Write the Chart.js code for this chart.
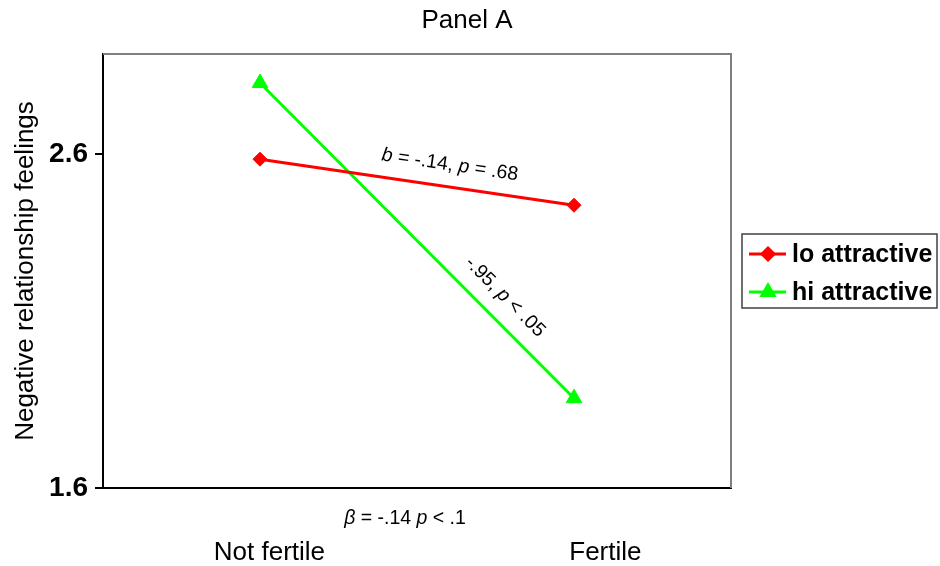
<!DOCTYPE html>
<html>
<head>
<meta charset="utf-8">
<script src="https://cdn.jsdelivr.net/npm/chart.js@4/dist/chart.umd.min.js"></script>
<style>
  html, body { margin: 0; padding: 0; background: #fff; }
  #wrap { width: 940px; height: 566px; position: relative; }
</style>
</head>
<body>
<div id="wrap"><canvas id="c" width="940" height="566"></canvas></div>
<script>
// ---- data ----
const categories = ["Not fertile", "Fertile"];
const seriesNames = ["lo attractive", "hi attractive"];
const loValues = [2.585, 2.447];
const hiValues = [2.813, 1.869];
const yTickValues = [1.6, 2.6];
const titleText = "Panel A";
const yAxisTitle = "Negative relationship feelings";

// ---- styling / layout ----
const FONT = "'Liberation Sans', Arial, Helvetica, sans-serif";
const X_LABEL_NUDGE = [0.03, 0.1];

function toPoints(vals) { return vals.map((v, i) => ({ x: i, y: v })); }

const annotationPlugin = {
  id: 'annot',
  afterDraw(chart) {
    const ctx = chart.ctx;
    const area = chart.chartArea;
    const xs = chart.scales.x, ys = chart.scales.y;
    ctx.save();
    // top & right gray borders
    ctx.strokeStyle = '#7f7f7f';
    ctx.lineWidth = 2;
    ctx.beginPath();
    ctx.moveTo(area.left, area.top);
    ctx.lineTo(area.right, area.top);
    ctx.lineTo(area.right, area.bottom);
    ctx.stroke();

    // title
    ctx.fillStyle = '#000';
    ctx.font = `26px ${FONT}`;
    ctx.textAlign = 'center';
    ctx.textBaseline = 'middle';
    ctx.fillText(titleText, 467, 21);

    function runs(parts, cx, cy, angle, size) {
      ctx.save();
      ctx.translate(cx, cy);
      ctx.rotate(angle);
      let total = 0;
      parts.forEach(p => { ctx.font = `${p[1] ? 'italic ' : ''}${size}px ${FONT}`; total += ctx.measureText(p[0]).width; });
      let x = -total / 2;
      ctx.textAlign = 'left';
      ctx.textBaseline = 'middle';
      parts.forEach(p => {
        ctx.font = `${p[1] ? 'italic ' : ''}${size}px ${FONT}`;
        ctx.fillText(p[0], x, 0);
        x += ctx.measureText(p[0]).width;
      });
      ctx.restore();
    }
    const r0x = xs.getPixelForValue(0), r0y = ys.getPixelForValue(loValues[0]);
    const r1x = xs.getPixelForValue(1), r1y = ys.getPixelForValue(loValues[1]);
    const aRed = Math.atan2(r1y - r0y, r1x - r0x);
    runs([["b", true], [" = -.14, ", false], ["p", true], [" = .68", false]], 450, 165, aRed, 19.5);
    const g0x = xs.getPixelForValue(0), g0y = ys.getPixelForValue(hiValues[0]);
    const g1x = xs.getPixelForValue(1), g1y = ys.getPixelForValue(hiValues[1]);
    const aGreen = Math.atan2(g1y - g0y, g1x - g0x);
    runs([["-.95, ", false], ["p", true], [" < .05", false]], 505, 297, aGreen, 19.5);
    runs([["\u03B2", true], [" = -.14 ", false], ["p", true], [" < .1", false]], 405, 519, 0, 19.5);

    // legend
    const lx = 742, ly = 234, lw = 195, lh = 74;
    ctx.fillStyle = '#fff';
    ctx.fillRect(lx, ly, lw, lh);
    ctx.strokeStyle = '#404040';
    ctx.lineWidth = 1.5;
    ctx.strokeRect(lx, ly, lw, lh);
    chart.data.datasets.forEach((ds, i) => {
      const y = ly + 20 + i * 38;
      ctx.strokeStyle = ds.borderColor;
      ctx.lineWidth = 3;
      ctx.beginPath();
      ctx.moveTo(749, y);
      ctx.lineTo(786, y);
      ctx.stroke();
      ctx.fillStyle = ds.borderColor;
      ctx.strokeStyle = ds.borderColor;
      Chart.helpers.drawPoint(ctx, { pointStyle: ds.pointStyle, radius: ds.legendRadius, borderWidth: 1, rotation: 0 }, 768, y);
      ctx.fillStyle = '#000';
      ctx.font = `bold 25px ${FONT}`;
      ctx.textAlign = 'left';
      ctx.textBaseline = 'middle';
      ctx.fillText(ds.label, 792, y + 1);
    });
    ctx.restore();
  }
};

new Chart(document.getElementById('c'), {
  type: 'line',
  data: {
    datasets: [
      {
        label: seriesNames[0],
        data: toPoints(loValues),
        borderColor: '#ff0000',
        backgroundColor: '#ff0000',
        borderWidth: 3,
        pointStyle: 'rectRot',
        pointRadius: 7,
        legendRadius: 6,
        pointBorderWidth: 1,
        tension: 0
      },
      {
        label: seriesNames[1],
        data: toPoints(hiValues),
        borderColor: '#00ff00',
        backgroundColor: '#00ff00',
        borderWidth: 3,
        pointStyle: 'triangle',
        pointRadius: 9,
        legendRadius: 7,
        pointBorderWidth: 1,
        tension: 0
      }
    ]
  },
  options: {
    responsive: false,
    animation: false,
    events: [],
    layout: { padding: { left: 0, top: 54, right: 209, bottom: 0 } },
    plugins: {
      legend: { display: false },
      title: { display: false },
      tooltip: { enabled: false }
    },
    scales: {
      x: {
        type: 'linear',
        min: -0.5,
        max: 1.5,
        grid: { display: false },
        border: { display: true, color: '#000', width: 2 },
        afterBuildTicks(scale) {
          scale.ticks = categories.map((c, i) => ({ value: i + X_LABEL_NUDGE[i] }));
        },
        afterFit(scale) { scale.height = 78; },
        ticks: {
          padding: 41,
          maxRotation: 0,
          autoSkip: false,
          color: '#000',
          font: { family: FONT, size: 26 },
          callback: (v, i) => categories[i]
        }
      },
      y: {
        type: 'linear',
        min: 1.6,
        max: 2.9,
        afterBuildTicks(scale) {
          scale.ticks = yTickValues.map(v => ({ value: v }));
        },
        afterFit(scale) { scale.width = 103; },
        grid: { display: true, drawOnChartArea: false, drawTicks: true, tickLength: 8, color: '#000', lineWidth: 2 },
        border: { display: true, color: '#000', width: 2 },
        ticks: {
          padding: 7,
          color: '#000',
          font: { family: FONT, size: 28, weight: 'bold' },
          callback: v => Number(v).toFixed(1)
        },
        title: {
          display: true,
          text: yAxisTitle,
          color: '#000',
          font: { family: FONT, size: 26 },
          padding: { top: 10, bottom: 0 }
        }
      }
    }
  },
  plugins: [annotationPlugin]
});
</script>
</body>
</html>
